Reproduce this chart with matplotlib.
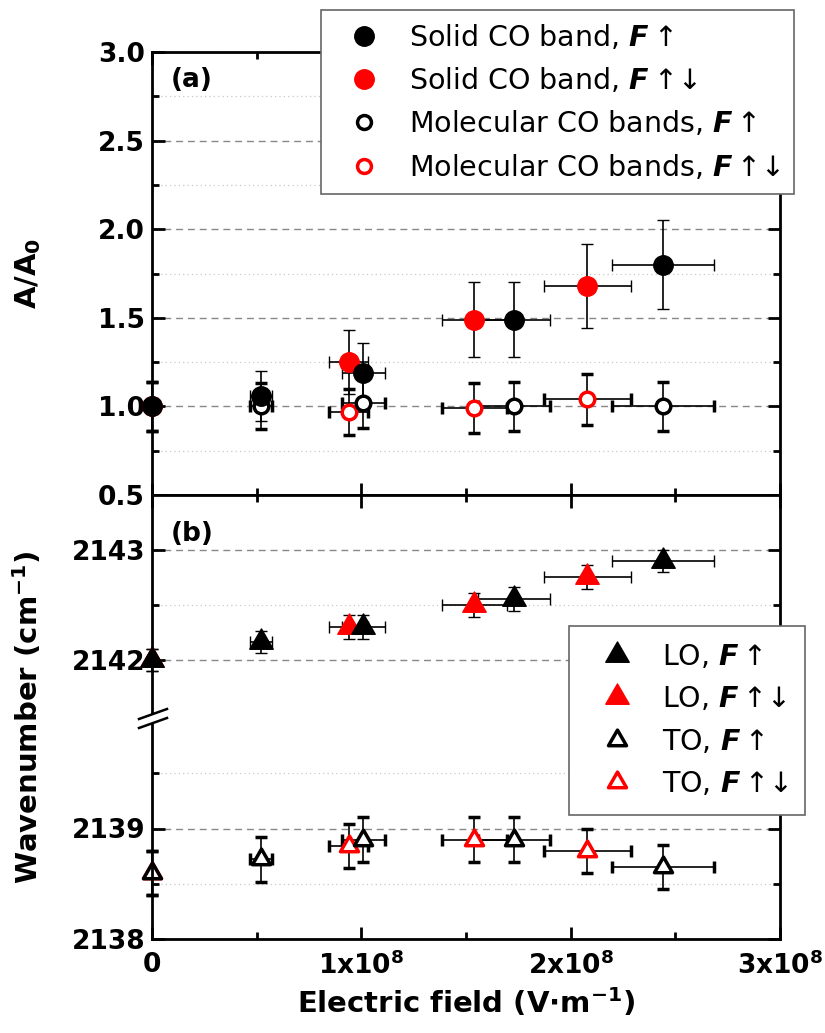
import matplotlib.pyplot as plt
from matplotlib.lines import Line2D
from matplotlib.patches import Polygon
from matplotlib.path import Path
from matplotlib.ticker import MultipleLocator, FixedLocator, FormatStrFormatter

plt.rcParams['font.family'] = ['DejaVu Sans']
plt.rcParams['font.weight'] = 'bold'
plt.rcParams['mathtext.fontset'] = 'dejavusans'

# electric field values (V/m) and their x error
field_up = [0, 0.52e8, 1.01e8, 1.73e8, 2.44e8]
field_up_err = [0, 0.052e8, 0.101e8, 0.173e8, 0.244e8]
field_updown = [0, 0.94e8, 1.54e8, 2.08e8]
field_updown_err = [0, 0.094e8, 0.154e8, 0.208e8]

# (a) normalised band areas
solid_up = [1.0, 1.06, 1.19, 1.49, 1.80]
solid_up_err = [0, 0.14, 0.17, 0.21, 0.25]
solid_updown = [1.0, 1.25, 1.49, 1.68]
solid_updown_err = [0, 0.18, 0.21, 0.235]
mol_up = [1.0, 1.0, 1.02, 1.0, 1.0]
mol_up_err = [0.14, 0.13, 0.14, 0.14, 0.14]
mol_updown = [1.0, 0.97, 0.99, 1.04]
mol_updown_err = [0.14, 0.13, 0.14, 0.145]

# (b) LO / TO wavenumbers
lo_up = [2142.0, 2142.16, 2142.3, 2142.55, 2142.9]
lo_up_err = [0.1, 0.1, 0.11, 0.11, 0.1]
lo_updown = [2142.0, 2142.3, 2142.5, 2142.75]
lo_updown_err = [0.1, 0.11, 0.11, 0.11]
to_up = [2138.6, 2138.72, 2138.9, 2138.9, 2138.65]
to_up_err = [0.2, 0.2, 0.2, 0.2, 0.2]
to_updown = [2138.6, 2138.84, 2138.9, 2138.8]
to_updown_err = [0.2, 0.2, 0.2, 0.2]

x_ticks = [0, 1e8, 2e8, 3e8]
x_labels = ['0', r'$\mathbf{1x10^{8}}$', r'$\mathbf{2x10^{8}}$', r'$\mathbf{3x10^{8}}$']

tri = Path([(0, 1.155), (-1, -0.577), (1, -0.577), (0, 1.155)], closed=True)
RED = '#ff0000'


def fx(px):
    return px / 825


def fy(py):
    return 1 - py / 1033


def style(ax):
    ax.set_xlim(0, 3e8)
    ax.xaxis.set_major_locator(MultipleLocator(1e8))
    ax.xaxis.set_minor_locator(MultipleLocator(0.5e8))
    ax.tick_params(which='both', direction='in', top=True, right=True,
                   width=2, labelsize=19, pad=5)
    ax.tick_params(which='major', length=9)
    ax.tick_params(which='minor', length=5)
    for s in ax.spines.values():
        s.set_linewidth(2)
    ax.grid(True, axis='y', which='major', ls=(0, (5, 3.5)), color='#888888', lw=1)
    ax.grid(True, axis='y', which='minor', ls=(0, (1, 2.5)), color='#c8c8c8', lw=0.9)
    ax.set_axisbelow(True)


def draw(ax, x, y, xerr, yerr, marker, ms, mfc, mec, mew):
    ax.errorbar(x, y, yerr=yerr, xerr=xerr, linestyle='none', marker=marker,
                ms=ms, mfc=mfc, mec=mec, mew=mew, ecolor='k', elinewidth=1.2,
                capsize=4, capthick=1.2, clip_on=False)


fig = plt.figure(figsize=(8.25, 10.33), dpi=100)
w = fx(780) - fx(152)
ax_a = fig.add_axes([fx(152), fy(495), w, fy(52) - fy(495)])
ax_hi = fig.add_axes([fx(152), fy(718), w, fy(495) - fy(718)])
ax_lo = fig.add_axes([fx(152), fy(939), w, fy(718) - fy(939)])

for ax in (ax_a, ax_hi, ax_lo):
    style(ax)

# ---- (a)
ax_a.set_ylim(0.5, 3.0)
ax_a.yaxis.set_major_locator(MultipleLocator(0.5))
ax_a.yaxis.set_minor_locator(MultipleLocator(0.25))
ax_a.yaxis.set_major_formatter(FormatStrFormatter('%.1f'))
ax_a.tick_params(labelbottom=False)

draw(ax_a, field_updown, mol_updown, field_updown_err, mol_updown_err, 'o', 10.5, 'white', RED, 2.5)
draw(ax_a, field_up, mol_up, field_up_err, mol_up_err, 'o', 10.5, 'white', 'k', 2.5)
draw(ax_a, field_updown, solid_updown, field_updown_err, solid_updown_err, 'o', 14, RED, RED, 1)
draw(ax_a, field_up, solid_up, field_up_err, solid_up_err, 'o', 14, 'k', 'k', 1)

# ---- (b) broken axis
ax_hi.set_ylim(2141.47, 2143.5)
ax_hi.yaxis.set_major_locator(FixedLocator([2142, 2143]))
ax_hi.yaxis.set_minor_locator(FixedLocator([2142.5]))
ax_hi.yaxis.set_major_formatter(FormatStrFormatter('%d'))
ax_hi.spines['bottom'].set_visible(False)
ax_hi.tick_params(which='both', bottom=False, labelbottom=False)

ax_lo.set_ylim(2138, 2140)
ax_lo.yaxis.set_major_locator(FixedLocator([2138, 2139]))
ax_lo.yaxis.set_minor_locator(FixedLocator([2138.5, 2139.5]))
ax_lo.yaxis.set_major_formatter(FormatStrFormatter('%d'))
ax_lo.spines['top'].set_visible(False)
ax_lo.tick_params(which='both', top=False)
ax_lo.tick_params(axis='x', pad=9)
ax_lo.set_xticks(x_ticks, x_labels)

draw(ax_hi, field_updown, lo_updown, field_updown_err, lo_updown_err, tri, 19.5, RED, RED, 1)
draw(ax_hi, field_up, lo_up, field_up_err, lo_up_err, tri, 19.5, 'k', 'k', 1)
draw(ax_lo, field_updown, to_updown, field_updown_err, to_updown_err, tri, 15, 'white', RED, 2.5)
draw(ax_lo, field_up, to_up, field_up_err, to_up_err, tri, 15, 'white', 'k', 2.5)

# break marks on the left spine
def l1(x):
    return 719 - (x - 139) * 10 / 28


def l2(x):
    return 728 - (x - 139) * 10 / 28


fig.add_artist(Polygon([[fx(146), fy(l1(146))], [fx(158), fy(l1(158))],
                        [fx(158), fy(l2(158))], [fx(146), fy(l2(146))]],
                       closed=True, fc='white', ec='none', transform=fig.transFigure, zorder=3))
for f in (l1, l2):
    fig.add_artist(Line2D([fx(139), fx(167)], [fy(f(139)), fy(f(167))], color='k',
                          lw=1.8, transform=fig.transFigure, zorder=4))

# labels
fig.text(fx(171), fy(80), '(a)', fontsize=19, ha='left', va='center')
fig.text(fx(171), fy(534), '(b)', fontsize=19, ha='left', va='center')
fig.text(fx(28), fy(273), r'$\mathbf{A/A_0}$', fontsize=21, rotation=90, ha='center', va='center')
fig.text(fx(28), fy(717), r'Wavenumber (cm$^{\mathbf{-1}}$)', fontsize=21, rotation=90,
         ha='center', va='center')
fig.text(fx(466), fy(1003), r'Electric field (V$\cdot$m$^{\mathbf{-1}}$)', fontsize=21,
         ha='center', va='center')

# legends
F = r'$\mathbfit{F}\,$'
h_a = [Line2D([], [], ls='none', marker='o', ms=14, mfc='k', mec='k'),
       Line2D([], [], ls='none', marker='o', ms=14, mfc=RED, mec=RED),
       Line2D([], [], ls='none', marker='o', ms=10, mfc='white', mec='k', mew=2.5),
       Line2D([], [], ls='none', marker='o', ms=10, mfc='white', mec=RED, mew=2.5)]
lab_a = ['Solid CO band, ' + F + '↑', 'Solid CO band, ' + F + '↑↓',
         'Molecular CO bands, ' + F + '↑', 'Molecular CO bands, ' + F + '↑↓']
leg_a = fig.legend(h_a, lab_a, loc='upper left', bbox_to_anchor=(fx(321), fy(10)),
                   frameon=True, fancybox=False, framealpha=1, edgecolor='#666666',
                   borderaxespad=0, borderpad=0.45, handlelength=2.1, handletextpad=0.55,
                   labelspacing=0.5, prop={'weight': 'normal', 'size': 20.5})
leg_a.get_frame().set_linewidth(1.2)

h_b = [Line2D([], [], ls='none', marker=tri, ms=19.5, mfc='k', mec='k'),
       Line2D([], [], ls='none', marker=tri, ms=19.5, mfc=RED, mec=RED),
       Line2D([], [], ls='none', marker=tri, ms=15, mfc='white', mec='k', mew=2.5),
       Line2D([], [], ls='none', marker=tri, ms=15, mfc='white', mec=RED, mew=2.5)]
lab_b = ['LO, ' + F + '↑', 'LO, ' + F + '↑↓', 'TO, ' + F + '↑', 'TO, ' + F + '↑↓']
leg_b = fig.legend(h_b, lab_b, loc='upper left', bbox_to_anchor=(fx(569), fy(626)),
                   frameon=True, fancybox=False, framealpha=1, edgecolor='#666666',
                   borderaxespad=0, borderpad=0.6, handlelength=2.2, handletextpad=0.45,
                   labelspacing=0.5, prop={'weight': 'normal', 'size': 20.5})
leg_b.get_frame().set_linewidth(1.2)

fig.savefig('out.png', dpi=100)
